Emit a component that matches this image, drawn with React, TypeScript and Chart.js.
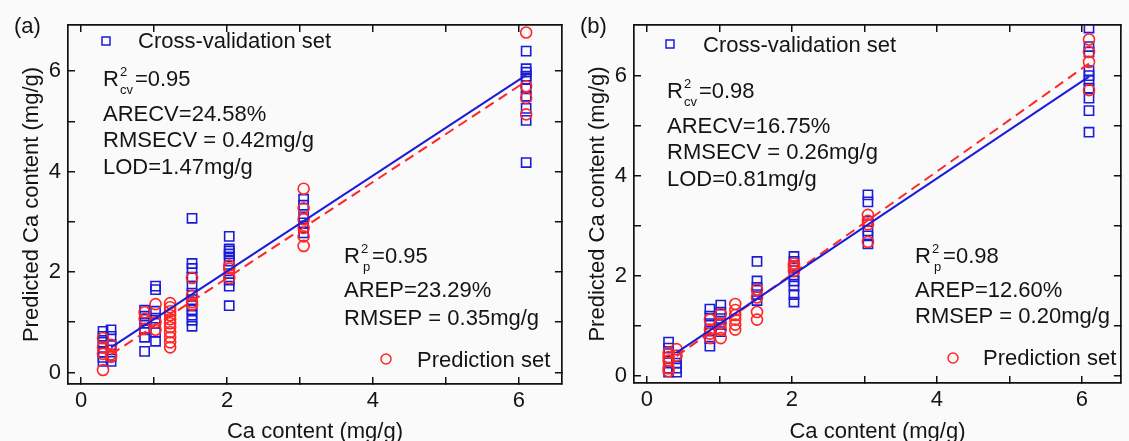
import React, { useEffect, useRef } from "react";
import { Chart, registerables } from "chart.js";

Chart.register(...registerables);

// ---------- data ----------
const xLevels = [0.3, 0.41, 0.87, 1.02, 1.22, 1.52, 2.03, 3.05, 6.1];

const aCvValues: number[][] = [
  [0.82, 0.72, 0.6, 0.5, 0.4, 0.3, 0.22],
  [0.85, 0.72, 0.55, 0.45, 0.32, 0.22],
  [1.24, 1.12, 0.98, 0.85, 0.7, 0.42],
  [1.72, 1.65, 1.22, 1.08, 0.98, 0.8, 0.62],
  [],
  [3.07, 2.17, 2.07, 1.9, 1.72, 1.58, 1.45, 1.33, 1.25, 1.14, 1.04, 0.92],
  [2.71, 2.46, 2.42, 2.36, 2.3, 2.22, 1.97, 1.84, 1.72, 1.33],
  [3.45, 3.33, 3.1, 2.98, 2.88, 2.78],
  [6.4, 6.05, 5.98, 5.9, 5.84, 5.65, 5.5, 5.26, 5.02, 4.18],
];
const aPredValues: number[][] = [
  [0.68, 0.5, 0.37, 0.05],
  [0.55, 0.36, 0.31],
  [1.2, 1.07, 0.87],
  [1.36, 1.0, 0.85],
  [1.38, 1.3, 1.22, 1.14, 1.06, 0.98, 0.9, 0.8, 0.7, 0.6, 0.5],
  [1.88, 1.53, 1.4, 1.35],
  [2.13, 2.07, 1.88],
  [3.66, 3.27, 3.05, 2.88, 2.71, 2.52],
  [6.77, 5.7, 5.47, 5.14],
];
const bCvValues: number[][] = [
  [0.68, 0.56, 0.45, 0.3, 0.16, 0.08],
  [0.38, 0.26, 0.16, 0.08],
  [1.34, 1.2, 1.05, 0.9, 0.75, 0.6],
  [1.42, 1.28, 1.15, 1.03, 0.89],
  [],
  [2.29, 1.9, 1.77, 1.63, 1.51],
  [2.39, 2.29, 2.16, 2.02, 1.9, 1.8, 1.63, 1.48],
  [3.62, 3.48, 3.09, 2.9, 2.8, 2.64],
  [6.95, 6.58, 6.47, 6.1, 6.0, 5.9, 5.75, 5.55, 5.3, 4.87],
];
const bPredValues: number[][] = [
  [0.47, 0.38, 0.31, 0.16, 0.1],
  [0.54, 0.41],
  [1.13, 0.93, 0.85, 0.76],
  [1.24, 1.05, 0.93, 0.76],
  [1.44, 1.32, 1.22, 1.13, 1.03, 0.93],
  [1.73, 1.57, 1.28, 1.13],
  [2.25, 2.2, 2.16, 2.1],
  [3.22, 3.1, 3.03, 2.68],
  [6.72, 6.47, 6.27, 5.71],
];

// fitted lines: [x0, y0, x1, y1]
const aFitCv = [0.41, 0.5, 6.1, 5.92];
const aFitPred = [0.41, 0.36, 6.1, 5.8];
const bFitCv = [0.41, 0.47, 6.1, 5.98];
const bFitPred = [0.41, 0.4, 6.1, 6.24];

const tickValues = [0, 1, 2, 3, 4, 5, 6];
const tickLabels = ["0", "", "2", "", "4", "", "6"];

const aStatsCv = ["0.95", "ARECV=24.58%", "RMSECV = 0.42mg/g", "LOD=1.47mg/g"];
const aStatsPred = ["0.95", "AREP=23.29%", "RMSEP = 0.35mg/g"];
const bStatsCv = ["0.98", "ARECV=16.75%", "RMSECV = 0.26mg/g", "LOD=0.81mg/g"];
const bStatsPred = ["0.98", "AREP=12.60%", "RMSEP = 0.20mg/g"];

const cvLegend = "Cross-validation set";
const predLegend = "Prediction set";
const xTitle = "Ca content (mg/g)";
const yTitle = "Predicted Ca content (mg/g)";

// ---------- styles ----------
const FAMILY = '"Liberation Sans", Arial, sans-serif';
const BIG = `22px ${FAMILY}`;
const SMALL = `13px ${FAMILY}`;
const TEXT = "#141414";
const AXIS = "#111111";
const BLUE = "#1c1cd6";
const RED = "#ff2626";

function toPoints(levels: number[], groups: number[][]) {
  return levels.flatMap((x, i) => groups[i].map((y) => ({ x, y })));
}
function linePts(f: number[]) {
  return [
    { x: f[0], y: f[1] },
    { x: f[2], y: f[3] },
  ];
}

type Layout = {
  width: number;
  left: number;
  right: number;
  top: number;
  bottom: number;
  xMin: number;
  xMax: number;
  yMin: number;
  yMax: number;
  yTitlePad: number;
  label: string;
  labelX: number;
  cvLeg: [number, number, number, number];
  predLeg: [number, number, number, number];
  cvBlock: [number, number, number, number, number];
  predBlock: [number, number, number, number];
};

const layoutA: Layout = {
  width: 570,
  left: 68,
  right: 3,
  top: 14,
  bottom: 57,
  xMin: -0.18,
  xMax: 6.59,
  yMin: -0.23,
  yMax: 6.92,
  yTitlePad: 21,
  label: "(a)",
  labelX: 14,
  cvLeg: [106, 41, 138, 48],
  predLeg: [386, 359, 417, 367],
  cvBlock: [103, 86, 121, 147, 174],
  predBlock: [344, 263, 297, 325],
};
const layoutB: Layout = {
  width: 559,
  left: 64,
  right: 1,
  top: 15,
  bottom: 58,
  xMin: -0.177,
  xMax: 6.54,
  yMin: -0.136,
  yMax: 7.01,
  yTitlePad: 17,
  label: "(b)",
  labelX: 10,
  cvLeg: [100, 44, 133, 52],
  predLeg: [383, 358, 413, 365],
  cvBlock: [97, 98, 133, 159, 186],
  predBlock: [345, 263, 297, 323],
};

function drawR(ctx: CanvasRenderingContext2D, x: number, y: number, sub: string, value: string) {
  ctx.font = BIG;
  ctx.fillText("R", x, y);
  const rw = ctx.measureText("R").width;
  ctx.font = SMALL;
  const sx = x + rw + 1;
  const subShift = sub === "p" ? 2 : 0;
  ctx.fillText("2", sx, y - 10);
  ctx.fillText(sub, sx + subShift, y + 8);
  const sw = Math.max(ctx.measureText("2").width, ctx.measureText(sub).width + subShift);
  ctx.font = BIG;
  ctx.fillText("=" + value, sx + sw + 2, y);
}

const annotPlugin = {
  id: "annot",
  afterDraw(chart: any, _args: any, opts: any) {
    const L: Layout = opts.layout;
    const cvStats: string[] = opts.cvStats;
    const predStats: string[] = opts.predStats;
    const ctx: CanvasRenderingContext2D = chart.ctx;
    ctx.save();
    ctx.fillStyle = TEXT;
    ctx.textBaseline = "alphabetic";
    ctx.textAlign = "left";
    ctx.font = BIG;
    ctx.fillText(L.label, L.labelX, 33);

    // legend: cross-validation
    ctx.strokeStyle = BLUE;
    ctx.lineWidth = 1.5;
    ctx.strokeRect(L.cvLeg[0] - 4, L.cvLeg[1] - 4, 8, 8);
    ctx.fillText(cvLegend, L.cvLeg[2], L.cvLeg[3]);

    // legend: prediction
    ctx.strokeStyle = RED;
    ctx.beginPath();
    ctx.arc(L.predLeg[0], L.predLeg[1], 5, 0, Math.PI * 2);
    ctx.stroke();
    ctx.fillStyle = TEXT;
    ctx.fillText(predLegend, L.predLeg[2], L.predLeg[3]);

    // cv stats block
    const cb = L.cvBlock;
    drawR(ctx, cb[0], cb[1], "cv", cvStats[0]);
    ctx.font = BIG;
    ctx.fillText(cvStats[1], cb[0], cb[2]);
    ctx.fillText(cvStats[2], cb[0], cb[3]);
    ctx.fillText(cvStats[3], cb[0], cb[4]);

    // prediction stats block
    const pb = L.predBlock;
    drawR(ctx, pb[0], pb[1], "p", predStats[0]);
    ctx.font = BIG;
    ctx.fillText(predStats[1], pb[0], pb[2]);
    ctx.fillText(predStats[2], pb[0], pb[3]);
    ctx.restore();
  },
};

function Panel(props: {
  layout: Layout;
  cv: number[][];
  pred: number[][];
  fitCv: number[];
  fitPred: number[];
  cvStats: string[];
  predStats: string[];
}) {
  const ref = useRef<HTMLCanvasElement | null>(null);
  useEffect(() => {
    const L = props.layout;
    const font = { family: FAMILY, size: 22, lineHeight: 1 };
    const setTicks = (s: any) => {
      s.ticks = tickValues.map((v) => ({ value: v }));
    };
    const label = (v: any) => {
      const i = tickValues.indexOf(Number(v));
      return i >= 0 ? tickLabels[i] : "";
    };
    const grid = {
      display: true,
      drawOnChartArea: false,
      drawTicks: true,
      tickLength: -7,
      color: AXIS,
      lineWidth: 1.5,
    };
    const border = { display: true, color: AXIS, width: 1.7 };
    const chart = new Chart(ref.current as HTMLCanvasElement, {
      type: "scatter",
      data: {
        datasets: [
          {
            type: "line",
            data: linePts(props.fitCv),
            borderColor: BLUE,
            borderWidth: 2,
            pointRadius: 0,
            fill: false,
          } as any,
          {
            type: "line",
            data: linePts(props.fitPred),
            borderColor: RED,
            borderWidth: 2,
            borderDash: [10, 6],
            pointRadius: 0,
            fill: false,
          } as any,
          {
            data: toPoints(xLevels, props.pred),
            pointStyle: "circle",
            pointRadius: 5.5,
            borderColor: RED,
            borderWidth: 1.6,
            backgroundColor: "rgba(0,0,0,0)",
          },
          {
            data: toPoints(xLevels, props.cv),
            pointStyle: "rect",
            pointRadius: 6.5,
            borderColor: BLUE,
            borderWidth: 1.6,
            backgroundColor: "rgba(0,0,0,0)",
          },
        ],
      },
      options: {
        responsive: false,
        animation: false,
        events: [],
        layout: { padding: 0 },
        plugins: {
          legend: { display: false },
          tooltip: { enabled: false },
          annot: { layout: L, cvStats: props.cvStats, predStats: props.predStats },
        } as any,
        scales: {
          x: {
            type: "linear",
            position: "bottom",
            min: L.xMin,
            max: L.xMax,
            afterBuildTicks: setTicks,
            afterFit: (s: any) => {
              s.height = L.bottom;
            },
            grid,
            border,
            ticks: { padding: 13, font, color: TEXT, callback: label, maxRotation: 0, autoSkip: false },
            title: { display: true, text: xTitle, font, color: TEXT, padding: { top: 0, bottom: -2 } },
          },
          x2: {
            type: "linear",
            position: "top",
            min: L.xMin,
            max: L.xMax,
            afterBuildTicks: setTicks,
            afterFit: (s: any) => {
              s.height = L.top;
            },
            grid,
            border,
            ticks: { display: false },
          },
          y: {
            type: "linear",
            position: "left",
            min: L.yMin,
            max: L.yMax,
            afterBuildTicks: setTicks,
            afterFit: (s: any) => {
              s.width = L.left;
            },
            grid,
            border,
            ticks: { padding: 14, font, color: TEXT, callback: label, autoSkip: false },
            title: { display: true, text: yTitle, font, color: TEXT, padding: { top: L.yTitlePad, bottom: 0 } },
          },
          y2: {
            type: "linear",
            position: "right",
            min: L.yMin,
            max: L.yMax,
            afterBuildTicks: setTicks,
            afterFit: (s: any) => {
              s.width = L.right;
            },
            grid,
            border,
            ticks: { display: false },
          },
        } as any,
      },
      plugins: [annotPlugin as any],
    });
    return () => chart.destroy();
  }, []);
  return <canvas ref={ref} width={props.layout.width} height={441} style={{ display: "block" }} />;
}

export default function App() {
  return (
    <div
      style={{
        position: "absolute",
        left: 0,
        top: 0,
        width: 1129,
        height: 441,
        background: "#fafafa",
        display: "flex",
        overflow: "hidden",
      }}
    >
      <Panel
        layout={layoutA}
        cv={aCvValues}
        pred={aPredValues}
        fitCv={aFitCv}
        fitPred={aFitPred}
        cvStats={aStatsCv}
        predStats={aStatsPred}
      />
      <Panel
        layout={layoutB}
        cv={bCvValues}
        pred={bPredValues}
        fitCv={bFitCv}
        fitPred={bFitPred}
        cvStats={bStatsCv}
        predStats={bStatsPred}
      />
    </div>
  );
}
